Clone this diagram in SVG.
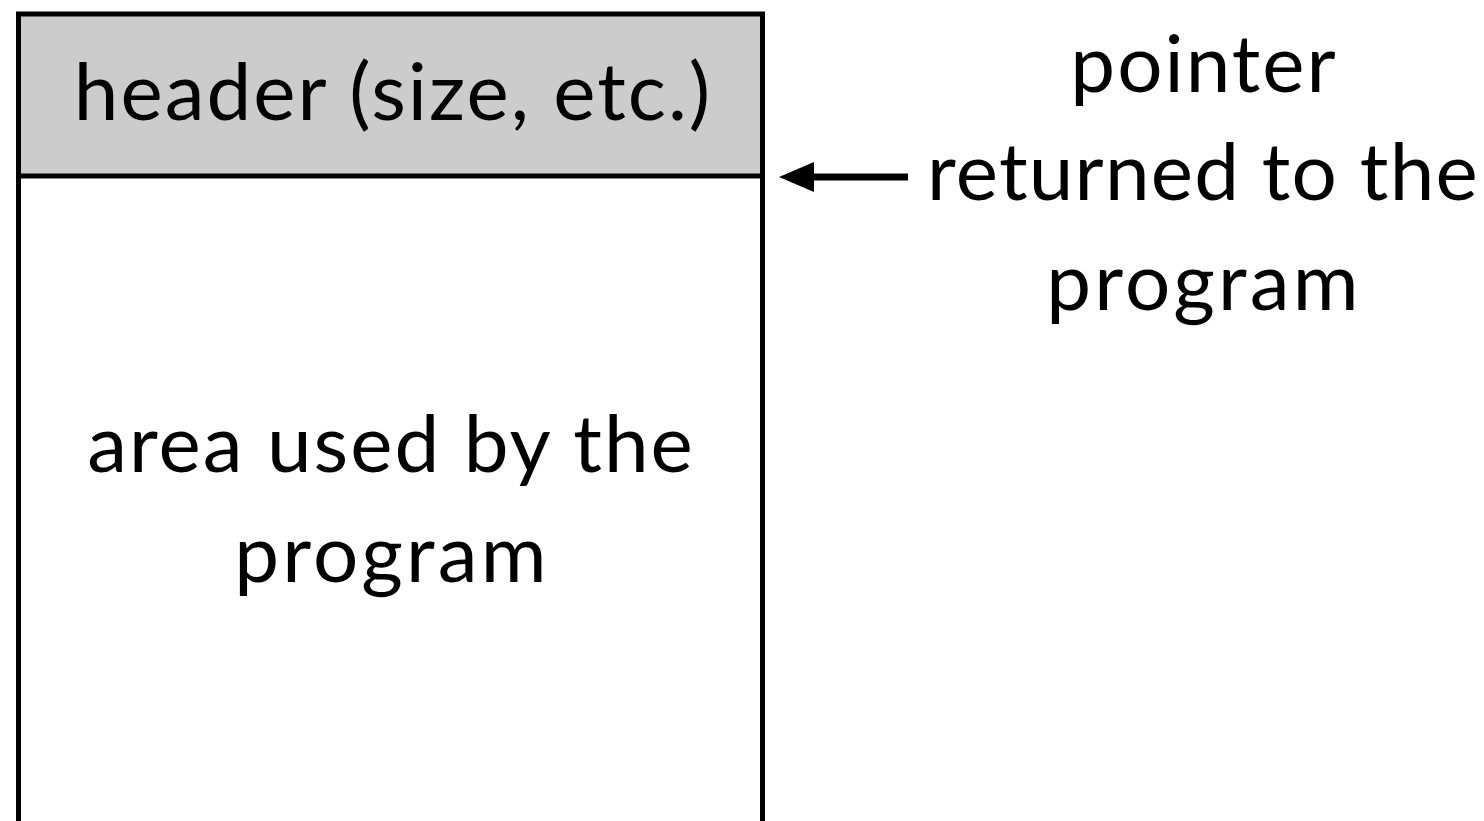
<svg xmlns="http://www.w3.org/2000/svg" width="1484" height="821" viewBox="0 0 1484 821">
<style>
.t{font-family:Lato,"Noto Sans","Liberation Sans",sans-serif;font-size:80px;fill:#000;text-anchor:middle;letter-spacing:2px}
.w{letter-spacing:3.2px}
.n{letter-spacing:1.2px}
.edge{stroke:#000;stroke-width:5;fill:none}
.conn{stroke:#000;stroke-width:7;fill:none}
</style>
<defs>
<marker id="ah" viewBox="0 0 10 10" refX="0" refY="5" markerWidth="35" markerHeight="30" markerUnits="userSpaceOnUse" orient="auto-start-reverse" preserveAspectRatio="none">
<path d="M0,0 L10,5 L0,10 Z" fill="#000"/>
</marker>
</defs>
<rect width="1484" height="821" fill="#fff"/>
<g id="block">
<rect x="18.5" y="14" width="744" height="162" fill="#cccccc"/>
<path class="edge" d="M18.5,830 V14 H762.5 V830 M18.5,176 H762.5"/>
<text class="t" x="393" y="120">header (size, etc.)</text>
<text class="t" x="391" y="472">area used by the</text>
<text class="t w" x="392" y="582">program</text>
</g>
<g id="label">
<text class="t" x="1204" y="92">pointer</text>
<text class="t n" x="1203" y="200">returned to the</text>
<text class="t w" x="1204" y="310">program</text>
</g>
<g id="connectors">
<line class="conn" x1="908" y1="177" x2="814" y2="177" marker-end="url(#ah)"/>
</g>
</svg>
